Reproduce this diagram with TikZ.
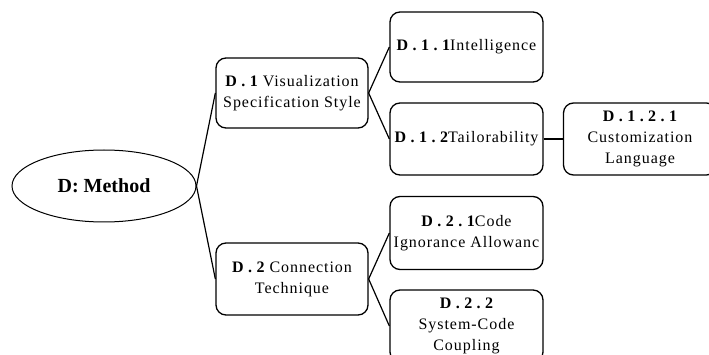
\documentclass[tikz,border=0pt]{standalone}
\usepackage{fontspec}
\usetikzlibrary{shapes.geometric}
\setmainfont{Liberation Serif}
\newfontfamily\labelfont[LetterSpace=6]{Liberation Serif}
\newfontfamily\idfont[LetterSpace=28]{Liberation Serif}
\newcommand\idtag[1]{{\idfont\bfseries #1}}
\tikzset{
  branch/.style={draw, rounded corners=10pt, line width=1.3pt,
    minimum width=153pt, minimum height=71pt, inner sep=0pt, align=center,
    font=\labelfont\fontsize{16}{21}\selectfont},
  root/.style={draw, ellipse, line width=1pt, minimum width=184pt,
    minimum height=72pt, inner sep=0pt, font=\bfseries\fontsize{20}{24}\selectfont},
  link/.style={line width=1.2pt}
}
\begin{document}
\begin{tikzpicture}[x=1pt,y=-1pt]
  \useasboundingbox (0,0) rectangle (709,355);
  \clip (0,0) rectangle (709,355);
  \fill[white] (0,0) rectangle (709,355);

  % root and first level
  \node[root] (m) at (104,186) {D: Method};
  \node[branch, minimum width=152pt, minimum height=70pt] (d1) at (292,93)
    {\idtag{D.1} Visualization\\Specification Style};
  \node[branch, minimum width=152pt, minimum height=72pt] (d2) at (292,279)
    {\idtag{D.2} Connection\\Technique};

  % second and third level
  \node[branch, minimum height=70pt] (d11) at (466.5,47) {\idtag{D.1.1}Intelligence};
  \node[branch, minimum height=72pt] (d12) at (466.5,139) {\idtag{D.1.2}Tailorability};
  \node[branch, minimum height=72pt] (d121) at (640,139)
    {\idtag{D.1.2.1}\\Customization\\Language};
  \node[branch, minimum height=73pt] (d21) at (466.5,233)
    {\idtag{D.2.1}Code\\Ignorance Allowanc};
  \node[branch, minimum height=72pt] (d22) at (466.5,326)
    {\idtag{D.2.2}\\System-Code\\Coupling};

  % connectors
  \draw[link] (m.east) -- (d1.west);
  \draw[link] (m.east) -- (d2.west);
  \draw[link] (d1.east) -- (d11.west);
  \draw[link] (d1.east) -- (d12.west);
  \draw[link] (d12.east) -- (d121.west);
  \draw[link] (d2.east) -- (d21.west);
  \draw[link] (d2.east) -- (d22.west);
\end{tikzpicture}
\end{document}
